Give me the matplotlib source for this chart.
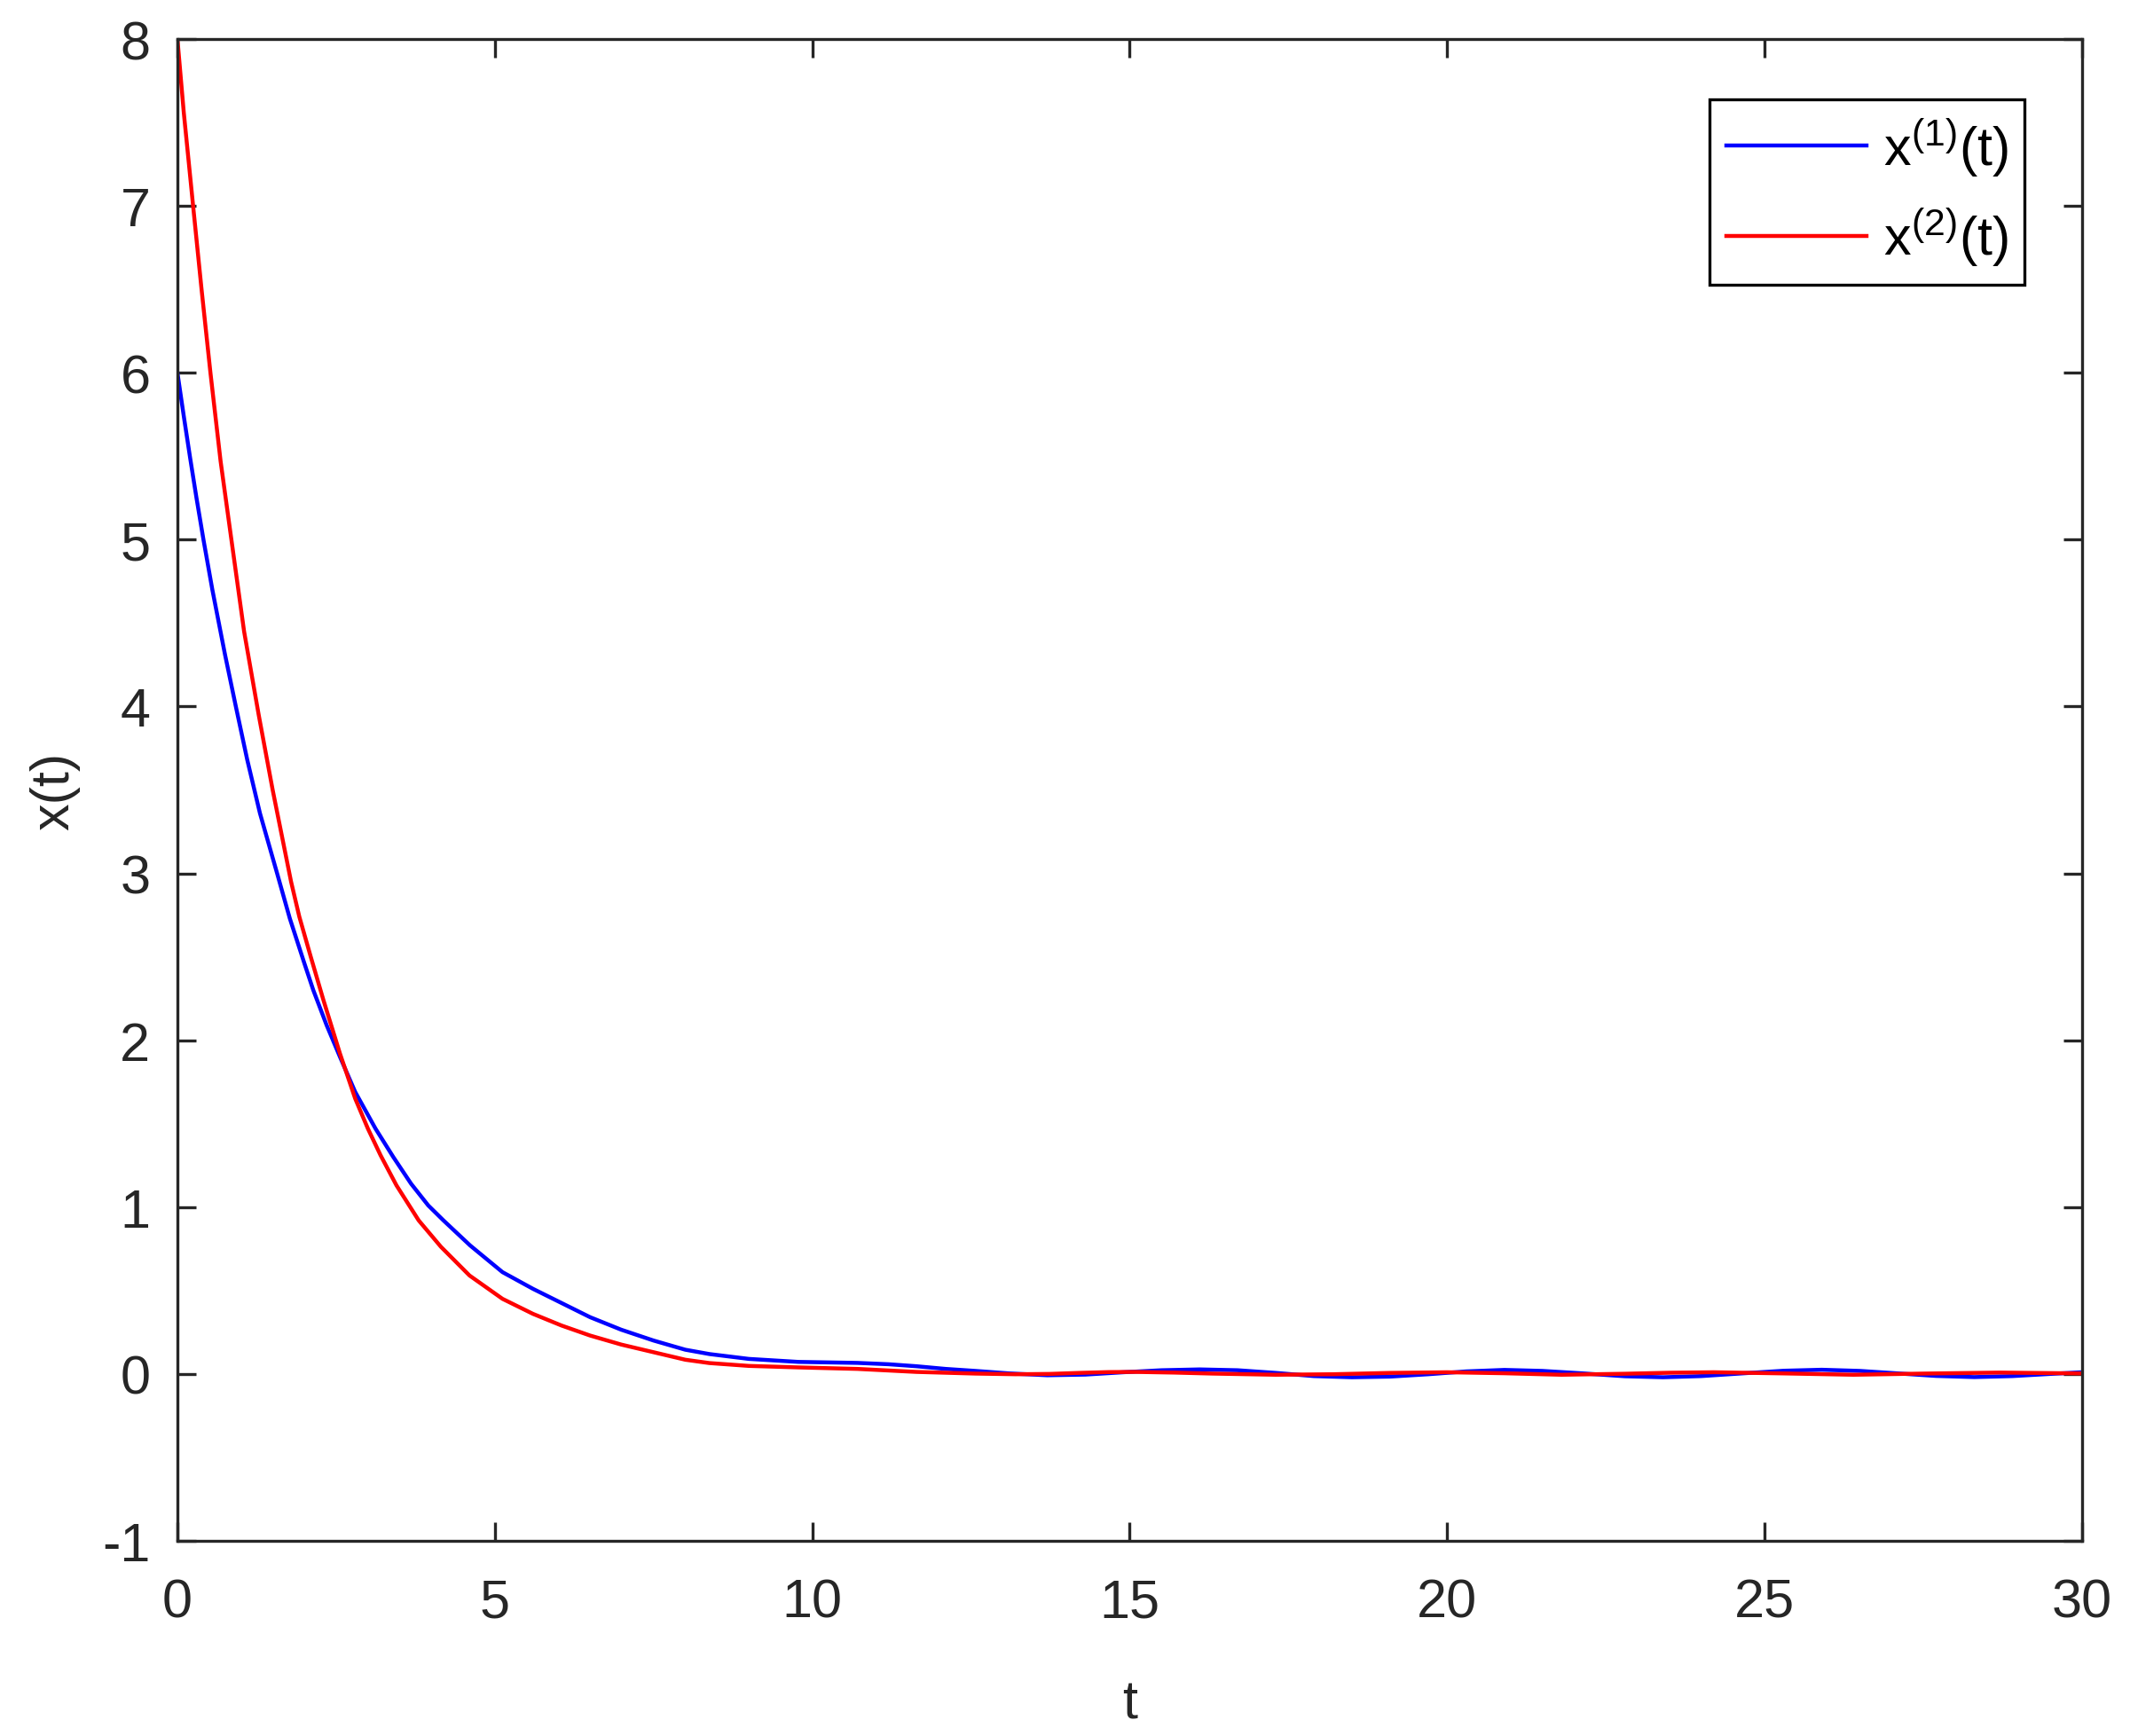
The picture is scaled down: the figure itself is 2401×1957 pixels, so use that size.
"""
Trajectories x^(1)(t) and x^(2)(t) converging to zero
"""

import matplotlib.pyplot as plt

plt.rcParams['font.family'] = ['Liberation Sans', 'DejaVu Sans']
plt.rcParams['mathtext.default'] = 'regular'
plt.rcParams['axes.unicode_minus'] = False

# ----------------------------------------------------------------------------
# Data
# ----------------------------------------------------------------------------
t1 = [0.0, 0.1, 0.2, 0.3, 0.41, 0.55, 0.75, 0.92, 1.1, 1.3, 1.57, 1.77,
      2.0, 2.14, 2.35, 2.56, 2.8, 3.12, 3.4, 3.68, 3.95, 4.19, 4.61, 5.12,
      5.6, 6.05, 6.5, 6.99, 7.5, 8.0, 8.38, 9.0, 9.78, 10.71, 11.2, 11.64,
      12.1, 12.57, 13.1, 13.7, 14.3, 14.9, 15.5, 16.1, 16.7, 17.3, 17.9,
      18.5, 19.1, 19.7, 20.3, 20.9, 21.5, 22.1, 22.8, 23.4, 24.0, 24.6,
      25.3, 25.9, 26.5, 27.1, 27.7, 28.3, 28.9, 29.5, 30.0]
x1 = [6.0, 5.74, 5.49, 5.25, 5.0, 4.70, 4.31, 4.0, 3.68, 3.36, 3.0, 2.73,
      2.46, 2.30, 2.09, 1.90, 1.69, 1.47, 1.30, 1.14, 1.01, 0.92, 0.77, 0.61,
      0.51, 0.425, 0.34, 0.265, 0.20, 0.145, 0.119, 0.09, 0.072, 0.066, 0.058, 0.046,
      0.030, 0.018, 0.003, -0.008, -0.004, 0.010, 0.022, 0.027, 0.022, 0.006, -0.013,
      -0.020, -0.016, -0.002, 0.015, 0.024, 0.018, 0.004, -0.014, -0.020, -0.013, 0.002,
      0.019, 0.025, 0.018, 0.003, -0.012, -0.019, -0.013, 0.000, 0.010]

t2 = [0.0, 0.1, 0.247, 0.38, 0.52, 0.68, 0.85, 1.05, 1.28, 1.5, 1.79, 1.92,
      2.1, 2.3, 2.56, 2.8, 3.0, 3.2, 3.45, 3.8, 4.15, 4.6, 5.12, 5.6, 6.05,
      6.5, 6.99, 7.5, 8.0, 8.38, 9.0, 9.78, 10.71, 11.64, 12.57, 13.2, 13.74,
      14.2, 14.67, 15.1, 15.7, 16.3, 17.3, 18.2, 19.1, 20.0, 20.9, 21.8,
      22.8, 23.5, 24.2, 25.3, 26.4, 27.5, 28.7, 30.0]
x2 = [8.0, 7.56, 7.0, 6.5, 6.0, 5.47, 5.0, 4.45, 3.95, 3.5, 2.95, 2.74,
      2.50, 2.24, 1.92, 1.65, 1.47, 1.31, 1.13, 0.92, 0.762, 0.59, 0.45, 0.36, 0.29,
      0.23, 0.176, 0.13, 0.085, 0.065, 0.048, 0.039, 0.030, 0.012, 0.002, -0.002, 0.0,
      0.006, 0.011, 0.012, 0.008, 0.002, -0.005, -0.002, 0.006, 0.010, 0.004, -0.005,
      0.001, 0.007, 0.010, 0.003, -0.005, 0.002, 0.008, 0.003]

labels = [r'$\mathregular{x^{(1)}(t)}$', r'$\mathregular{x^{(2)}(t)}$']
xticks = [0, 5, 10, 15, 20, 25, 30]
yticks = [-1, 0, 1, 2, 3, 4, 5, 6, 7, 8]

# ----------------------------------------------------------------------------
# Figure
# ----------------------------------------------------------------------------
dark = '#262626'
fig = plt.figure(figsize=(12.005, 9.79), dpi=200)
ax = fig.add_axes([0.0833, 0.1124, 0.8942, 0.8646])

ax.plot(t1, x1, color='#0000ff', linewidth=1.6, label=labels[0])
ax.plot(t2, x2, color='#ff0000', linewidth=1.6, label=labels[1])

ax.set_xlim(0, 30)
ax.set_ylim(-1, 8)
ax.set_xticks(xticks)
ax.set_yticks(yticks)

ax.tick_params(direction='in', length=7.5, width=1.2, colors=dark,
               labelsize=22, top=True, right=True)
ax.tick_params(axis='x', pad=15)
ax.tick_params(axis='y', pad=11)
for sp in ax.spines.values():
    sp.set_color(dark)
    sp.set_linewidth(1.2)

ax.set_xlabel('t', fontsize=22, color=dark)
ax.set_ylabel('x(t)', fontsize=22, color=dark)
ax.xaxis.set_label_coords(0.5, -0.092)
ax.yaxis.set_label_coords(-0.051, 0.5)

leg = ax.legend(loc='upper right', bbox_to_anchor=(0.9697, 0.9598),
                borderaxespad=0, fontsize=22, fancybox=False, framealpha=1,
                edgecolor='black', handlelength=2.6, handletextpad=0.3,
                borderpad=0.3, labelspacing=0.5)
leg.get_frame().set_linewidth(1.2)

plt.savefig('out.png', dpi=200)
